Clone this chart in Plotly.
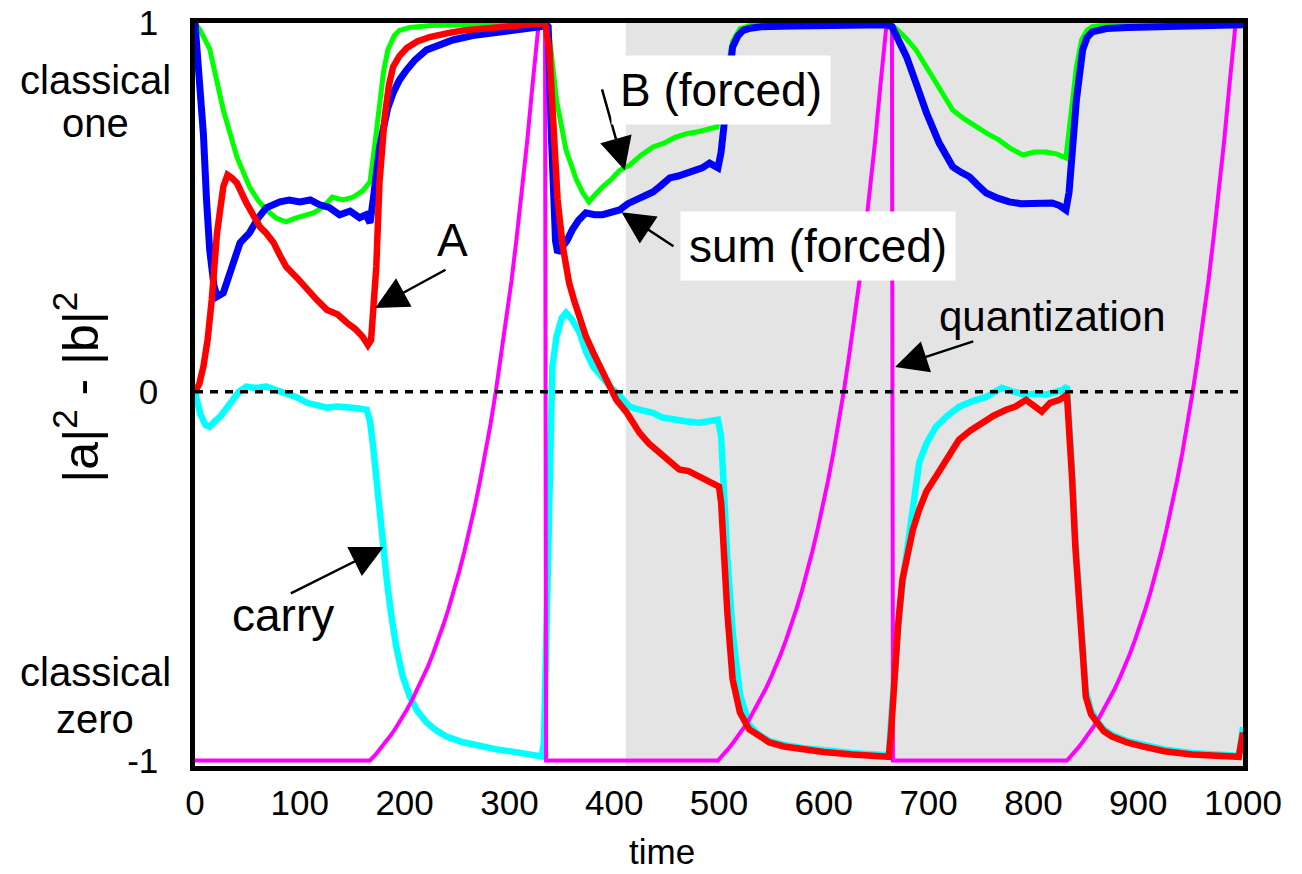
import plotly.graph_objects as go

# ---------------- data ----------------
green_t = [0, 5, 14, 27, 40, 52, 60, 68, 78, 87, 95, 105, 113, 122, 131, 141, 151, 160, 167, 172, 176, 180, 184, 190, 195, 205, 225, 260, 300, 330,
           334, 338, 345, 354, 364, 370, 376, 382, 389, 397, 405, 415, 425, 437, 448, 458, 469, 480, 490, 498, 503, 508, 513, 520, 530, 560, 600, 640, 662,
           667, 678, 688, 696, 704, 713, 723, 734, 745, 756, 767, 778, 790, 801, 812, 822, 831, 834, 837, 841, 846, 851, 856, 870, 900, 950, 1000]
green_y = [1.0, 0.98, 0.93, 0.764, 0.637, 0.556, 0.52, 0.493, 0.47, 0.461, 0.47, 0.48, 0.485, 0.50, 0.528, 0.52, 0.528, 0.545, 0.569, 0.68, 0.79, 0.87, 0.927, 0.965, 0.98, 0.988, 0.993, 0.996, 0.998, 0.999,
           1.0, 0.97, 0.79, 0.656, 0.575, 0.54, 0.515, 0.535, 0.556, 0.575, 0.60, 0.615, 0.64, 0.664, 0.675, 0.69, 0.70, 0.705, 0.712, 0.718, 0.80, 0.88, 0.95, 0.985, 0.993, 0.996, 0.997, 0.998, 0.999,
           0.99, 0.96, 0.927, 0.89, 0.854, 0.81, 0.764, 0.74, 0.718, 0.70, 0.683, 0.66, 0.642, 0.65, 0.65, 0.645, 0.634, 0.70, 0.79, 0.88, 0.954, 0.98, 0.99, 0.995, 0.997, 0.998, 0.999]

blue_t = [0, 4, 8, 11, 14, 18, 21, 27, 33, 38, 43, 52, 60, 68, 75, 81, 90, 100, 110, 119, 128, 138, 148, 157, 163, 167, 170, 173, 176, 180, 184, 189, 195, 202, 210, 221, 233, 246, 265, 288, 305, 322, 330,
          334, 337, 340, 342, 344, 346, 351, 355, 360, 366, 373, 381, 389, 397, 405, 413, 421, 429, 437, 445, 453, 461, 469, 477, 484, 491, 499, 502, 504, 506, 508, 510, 513, 518, 523, 530, 540, 570, 600, 630, 660,
          665, 672, 679, 688, 698, 710, 723, 731, 739, 747, 755, 766, 777, 788, 799, 808, 818, 825, 831, 834, 836, 841, 847, 851, 856, 870, 890, 930, 970, 1000]
blue_y = [1.0, 0.86, 0.70, 0.52, 0.385, 0.29, 0.258, 0.268, 0.322, 0.37, 0.404, 0.431, 0.47, 0.499, 0.51, 0.515, 0.52, 0.515, 0.52, 0.507, 0.50, 0.48, 0.49, 0.472, 0.48, 0.458, 0.52, 0.593, 0.66, 0.718, 0.77, 0.81, 0.845, 0.873, 0.90, 0.927, 0.942, 0.954, 0.966, 0.976, 0.982, 0.986, 0.99,
          1.0, 0.99, 0.70, 0.474, 0.41, 0.377, 0.393, 0.41, 0.439, 0.465, 0.485, 0.48, 0.48, 0.485, 0.493, 0.51, 0.52, 0.53, 0.542, 0.56, 0.58, 0.585, 0.593, 0.60, 0.607, 0.62, 0.607, 0.65, 0.70, 0.77, 0.837, 0.89, 0.935, 0.965, 0.98, 0.986, 0.99, 0.992, 0.993, 0.994, 0.995,
          0.99, 0.95, 0.908, 0.837, 0.756, 0.675, 0.61, 0.595, 0.583, 0.56, 0.539, 0.525, 0.515, 0.51, 0.512, 0.51, 0.512, 0.505, 0.493, 0.54, 0.61, 0.79, 0.927, 0.96, 0.976, 0.985, 0.988, 0.99, 0.992, 0.995]

red_t = [0, 4, 8, 12, 16, 21, 27, 31, 35, 40, 49, 56, 62, 68, 75, 81, 87, 97, 107, 116, 126, 136, 145, 153, 160, 165, 168, 170, 173, 176, 181, 185, 189, 195, 202, 212, 224, 240, 256, 280, 300, 320, 330,
         334, 338, 342, 346, 351, 357, 362, 367, 373, 380, 386, 393, 402, 412, 418, 424, 433, 443, 452, 462, 471, 481, 490, 500, 502, 504, 508, 513, 520, 529, 538, 548, 562, 580, 600, 627, 645, 662,
         664, 667, 671, 675, 680, 685, 691, 698, 707, 718, 729, 740, 751, 762, 774, 783, 793, 800, 808, 816, 825, 832, 834, 837, 840, 844, 850, 855, 860, 867, 875, 890, 904, 925, 951, 975, 996, 1000]
red_y = [0.0, 0.02, 0.068, 0.14, 0.25, 0.43, 0.556, 0.588, 0.58, 0.566, 0.512, 0.48, 0.447, 0.43, 0.404, 0.37, 0.339, 0.31, 0.276, 0.25, 0.222, 0.21, 0.187, 0.17, 0.149, 0.127, 0.14, 0.203, 0.339, 0.566, 0.745, 0.83, 0.881, 0.91, 0.932, 0.95, 0.962, 0.972, 0.98, 0.986, 0.99, 0.993, 0.995,
         1.0, 0.93, 0.72, 0.52, 0.393, 0.295, 0.245, 0.203, 0.15, 0.106, 0.07, 0.033, -0.022, -0.057, -0.085, -0.111, -0.14, -0.165, -0.19, -0.211, -0.215, -0.23, -0.24, -0.257, -0.30, -0.42, -0.60, -0.78, -0.87, -0.916, -0.935, -0.951, -0.962, -0.97, -0.977, -0.984, -0.987, -0.99,
         -0.93, -0.78, -0.63, -0.51, -0.43, -0.374, -0.32, -0.27, -0.23, -0.18, -0.13, -0.105, -0.084, -0.065, -0.049, -0.04, -0.022, -0.035, -0.054, -0.03, -0.022, -0.008, -0.08, -0.24, -0.42, -0.60, -0.827, -0.875, -0.897, -0.92, -0.935, -0.952, -0.962, -0.975, -0.984, -0.988, -0.99, -0.924]

cyan_t = [0, 5, 10, 14, 19, 24, 30, 36, 42, 49, 58, 68, 77, 87, 97, 107, 116, 126, 136, 145, 155, 164, 167, 170, 173, 176, 180, 183, 187, 192, 198, 205, 212, 221, 230, 240, 255, 272, 288, 303, 318, 331,
          333, 336, 339, 341, 345, 350, 354, 360, 367, 373, 380, 388, 396, 405, 415, 426, 437, 446, 456, 468, 481, 490, 499, 502, 504, 508, 513, 520, 529, 538, 548, 562, 580, 600, 627, 645, 662,
          664, 667, 672, 677, 682, 686, 691, 698, 707, 718, 729, 742, 755, 763, 770, 781, 793, 803, 812, 822, 828, 832, 834, 837, 840, 844, 850, 855, 860, 867, 875, 890, 904, 925, 951, 975, 996, 998, 1000]
cyan_y = [0.0, -0.06, -0.09, -0.095, -0.08, -0.068, -0.045, -0.022, 0.0, 0.014, 0.01, 0.014, 0.005, -0.003, -0.015, -0.03, -0.035, -0.043, -0.04, -0.041, -0.045, -0.049, -0.08, -0.149, -0.24, -0.328, -0.43, -0.51, -0.60, -0.691, -0.77, -0.827, -0.865, -0.897, -0.918, -0.935, -0.95, -0.962, -0.97, -0.976, -0.983, -0.989,
          -0.95, -0.5, -0.1, 0.068, 0.15, 0.2, 0.214, 0.195, 0.16, 0.11, 0.068, 0.04, 0.014, -0.01, -0.041, -0.05, -0.057, -0.07, -0.076, -0.08, -0.084, -0.078, -0.076, -0.12, -0.24, -0.45, -0.65, -0.82, -0.905, -0.93, -0.947, -0.958, -0.966, -0.973, -0.98, -0.983, -0.986,
          -0.9, -0.78, -0.60, -0.48, -0.374, -0.28, -0.193, -0.14, -0.095, -0.065, -0.041, -0.025, -0.014, 0.0, 0.011, 0.0, -0.008, -0.005, -0.008, 0.0, 0.005, 0.014, -0.06, -0.22, -0.40, -0.58, -0.81, -0.865, -0.89, -0.915, -0.93, -0.948, -0.958, -0.97, -0.98, -0.984, -0.987, -0.95, -0.91]

magenta_t = [0, 167, 172, 177, 182, 187, 192, 197, 202, 207, 212, 217, 222, 227, 232, 237, 242, 247, 252, 257, 262, 267, 272, 277, 282,
             287, 292, 297, 302, 307, 312, 317, 322, 327, 328, 334, 335,
             499, 504, 509, 514, 519, 524, 529, 534, 539, 544, 549, 554, 559, 564, 569, 574, 579, 584, 589, 594, 599, 604, 609, 614,
             619, 624, 629, 634, 639, 644, 649, 654, 659, 660, 665, 666,
             832, 837, 842, 847, 852, 857, 862, 867, 872, 877, 882, 887, 892, 897, 902, 907, 912, 917, 922, 927, 932, 937, 942, 947,
             952, 957, 962, 967, 972, 977, 982, 987, 992, 993, 1000]
magenta_y = [-1.0, -1.0, -0.985, -0.968, -0.95, -0.931, -0.91, -0.888, -0.863, -0.837, -0.809, -0.779, -0.747, -0.711, -0.673, -0.632, -0.588, -0.541, -0.489, -0.434, -0.374, -0.311, -0.242, -0.168, -0.088,
             0.0, 0.094, 0.194, 0.30, 0.42, 0.545, 0.68, 0.83, 0.98, 1.0, 1.0, -1.0,
             -1.0, -0.985, -0.968, -0.95, -0.931, -0.91, -0.888, -0.863, -0.837, -0.809, -0.779, -0.747, -0.711, -0.673, -0.632, -0.588, -0.541, -0.489, -0.434, -0.374, -0.311, -0.242, -0.168, -0.088,
             0.0, 0.094, 0.194, 0.30, 0.42, 0.545, 0.68, 0.83, 0.98, 1.0, 1.0, -1.0,
             -1.0, -0.985, -0.968, -0.95, -0.931, -0.91, -0.888, -0.863, -0.837, -0.809, -0.779, -0.747, -0.711, -0.673, -0.632, -0.588, -0.541, -0.489, -0.434, -0.374, -0.311, -0.242, -0.168, -0.088,
             0.0, 0.094, 0.194, 0.30, 0.42, 0.545, 0.68, 0.83, 0.98, 1.0, 1.0]

forced_start = 411
x_tickvals = [0, 100, 200, 300, 400, 500, 600, 700, 800, 900, 1000]
x_ticktext = ["0", "100", "200", "300", "400", "500", "600", "700", "800", "900", "1000"]
y_tickvals = [-1, 0, 1]
y_ticktext = ["-1", "0", "1"]

FONT = "Liberation Sans, Arial, Helvetica, sans-serif"

fig = go.Figure()

fig.add_trace(go.Scatter(x=cyan_t, y=cyan_y, mode="lines", line=dict(color="#00ffff", width=6.5), name="carry"))
fig.add_trace(go.Scatter(x=magenta_t, y=magenta_y, mode="lines", line=dict(color="#ff00ff", width=4), name="quantization"))
fig.add_trace(go.Scatter(x=green_t, y=green_y, mode="lines", line=dict(color="#00ff00", width=5), name="B (forced)"))
fig.add_trace(go.Scatter(x=blue_t, y=blue_y, mode="lines", line=dict(color="#0000ff", width=7), name="sum (forced)"))
fig.add_trace(go.Scatter(x=red_t, y=red_y, mode="lines", line=dict(color="#ff0000", width=6.5), name="A"))

# forced region shading
fig.add_shape(type="rect", xref="x", yref="y", x0=forced_start, x1=1000, y0=-1.015, y1=1.0,
              fillcolor="#e4e4e4", line=dict(width=0), layer="below")
# zero reference line
fig.add_shape(type="line", xref="x", yref="y", x0=0, x1=1000, y0=0, y1=0,
              line=dict(color="black", width=3.5, dash="8px,7px"), layer="above")

def arrow(xh, yh, xt, yt):
    fig.add_annotation(x=xh, y=yh, ax=xt, ay=yt, xref="x", yref="y", axref="x", ayref="y",
                       text="", showarrow=True, arrowhead=2, arrowsize=2.6, arrowwidth=2.5, arrowcolor="black")

def label(x, y, txt, size=46, bg=None, pad=0):
    kw = dict(bgcolor=bg, borderpad=pad) if bg else {}
    fig.add_annotation(x=x, y=y, xref="x", yref="y", text=txt, showarrow=False,
                       font=dict(family=FONT, size=size, color="black"),
                       xanchor="center", yanchor="middle", **kw)

arrow(172, 0.227, 240.5, 0.333)
label(246, 0.411, "A")
arrow(410, 0.601, 388, 0.824)
label(502, 0.818, "B (forced)", bg="white", pad=8)
arrow(407, 0.487, 458, 0.392)
label(594.5, 0.394, "sum (forced)", bg="white", pad=8)
arrow(668, 0.067, 744, 0.138)
label(818, 0.205, "quantization", size=42)
arrow(180, -0.421, 90, -0.549)
label(84, -0.606, "carry")

# left side labels
for txt, yv in [("classical", 0.845), ("one", 0.73), ("classical", -0.76), ("zero", -0.888)]:
    fig.add_annotation(x=-0.0954, y=yv, xref="paper", yref="y", text=txt, showarrow=False,
                       font=dict(family=FONT, size=40, color="black"), xanchor="center", yanchor="middle")

fig.add_annotation(x=-0.113, y=0.51, xref="paper", yref="paper", text="|a|<sup>2</sup> - |b|<sup>2</sup>",
                   textangle=-90, showarrow=False, font=dict(family=FONT, size=50, color="black"),
                   xanchor="center", yanchor="middle")
fig.add_annotation(x=0.4456, y=-0.1445, xref="paper", yref="paper", text="time", showarrow=False,
                   font=dict(family=FONT, size=35, color="black"), xanchor="center", yanchor="bottom")

fig.update_layout(
    template="none",
    width=1302, height=874,
    margin=dict(l=195, r=59, t=23, b=108, autoexpand=False),
    plot_bgcolor="white", paper_bgcolor="white",
    showlegend=False,
    font=dict(family=FONT, color="black"),
)
fig.update_xaxes(range=[0, 1000], tickvals=x_tickvals, ticktext=x_ticktext, showgrid=False, zeroline=False,
                 showline=True, linecolor="black", linewidth=4.5, mirror=True, ticks="", automargin=False,
                 tickfont=dict(family=FONT, size=35, color="black"), ticklabelstandoff=2)
fig.update_yaxes(range=[-1.015, 1.0], tickvals=y_tickvals, ticktext=y_ticktext, showgrid=False, zeroline=False,
                 showline=True, linecolor="black", linewidth=4.5, mirror=True, ticks="", automargin=False,
                 tickfont=dict(family=FONT, size=35, color="black"), ticklabelstandoff=25)

fig.write_html("out.html", config={"displayModeBar": False},
               post_script="document.body.style.margin='0';document.body.style.overflow='hidden';")
